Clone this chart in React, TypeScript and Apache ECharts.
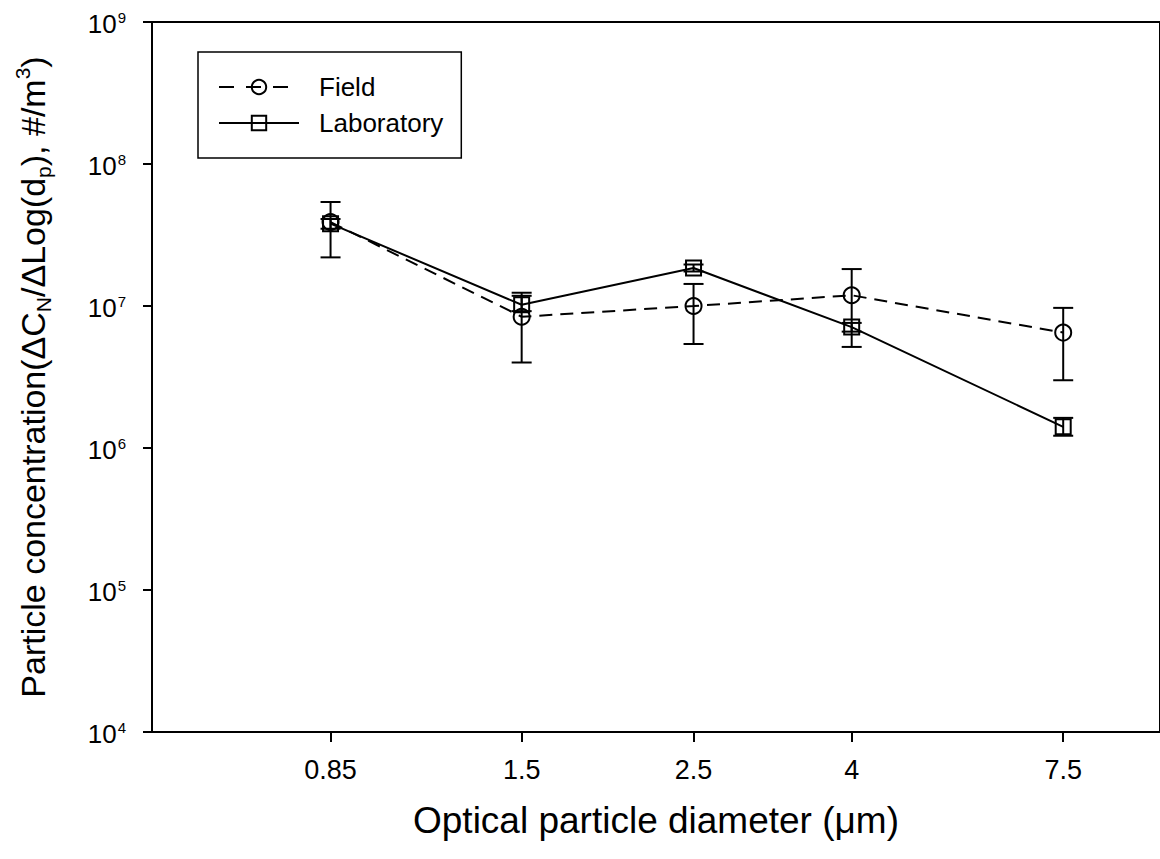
import React, { useEffect, useRef } from "react";
import * as echarts from "echarts";

const diameters = [0.85, 1.5, 2.5, 4, 7.5];
const xTickLabels = ["0.85", "1.5", "2.5", "4", "7.5"];
const fieldValues = [3.9e7, 8.4e6, 1.0e7, 1.19e7, 6.5e6];
const fieldLow = [2.2e7, 4.0e6, 5.4e6, 5.15e6, 3.0e6];
const fieldHigh = [5.4e7, 1.24e7, 1.43e7, 1.82e7, 9.7e6];
const labValues = [3.8e7, 1.02e7, 1.85e7, 7.1e6, 1.41e6];
const labLow = [3.5e7, 9.2e6, 1.75e7, 6.6e6, 1.22e6];
const labHigh = [4.1e7, 1.18e7, 1.96e7, 7.6e6, 1.63e6];
const yTicks = [1e4, 1e5, 1e6, 1e7, 1e8, 1e9];

const FONT = "'Liberation Sans', Arial, sans-serif";
const INK = "#000";

function errorBarSeries(name: string, lows: number[], highs: number[]) {
  return {
    type: "custom",
    name,
    data: diameters.map((d, i) => [d, lows[i], highs[i]]),
    encode: { x: 0, y: [1, 2] },
    z: 3,
    silent: true,
    renderItem: (params: any, api: any) => {
      const x = api.value(0);
      const p1 = api.coord([x, api.value(1)]);
      const p2 = api.coord([x, api.value(2)]);
      const w = 10;
      const st = { stroke: INK, lineWidth: 2, fill: "none" };
      return {
        type: "group",
        children: [
          { type: "line", shape: { x1: p1[0], y1: p1[1], x2: p2[0], y2: p2[1] }, style: st },
          { type: "line", shape: { x1: p1[0] - w, y1: p1[1], x2: p1[0] + w, y2: p1[1] }, style: st },
          { type: "line", shape: { x1: p2[0] - w, y1: p2[1], x2: p2[0] + w, y2: p2[1] }, style: st },
        ],
      };
    },
  };
}

export default function App() {
  const ref = useRef<HTMLDivElement>(null);
  useEffect(() => {
    if (!ref.current) return;
    const chart = echarts.init(ref.current, undefined, { renderer: "svg" });
    const option: any = {
      animation: false,
      backgroundColor: "#fff",
      textStyle: { fontFamily: FONT, color: INK },
      grid: {
        left: 152,
        top: 22,
        width: 1011,
        height: 710,
        show: true,
        borderColor: INK,
        borderWidth: 2,
        backgroundColor: "transparent",
      },
      legend: {
        data: [
          { name: "Field", lineStyle: { type: [15, 12] } },
          { name: "Laboratory" },
        ],
        orient: "vertical",
        left: 198,
        top: 52,
        borderColor: INK,
        borderWidth: 1.5,
        padding: [22, 18, 22, 20],
        itemWidth: 80,
        itemHeight: 18,
        itemGap: 10,
        textStyle: { fontFamily: FONT, fontSize: 26, color: INK, padding: [0, 0, 0, 15] },
      },
      xAxis: {
        type: "log",
        logBase: 10,
        min: 0.5,
        max: 10,
        name: "Optical particle diameter (\u03bcm)",
        nameLocation: "middle",
        nameGap: 70,
        nameTextStyle: { fontFamily: FONT, fontSize: 37, color: INK },
        axisLine: { show: true, lineStyle: { color: INK, width: 2 } },
        axisTick: { show: true, customValues: diameters, length: 10, lineStyle: { color: INK, width: 2 } },
        axisLabel: {
          customValues: diameters,
          margin: 24,
          fontFamily: FONT,
          fontSize: 27,
          color: INK,
          formatter: (v: number) => {
            let best = 0;
            diameters.forEach((d, i) => {
              if (Math.abs(d - v) < Math.abs(diameters[best] - v)) best = i;
            });
            return xTickLabels[best];
          },
        },
        splitLine: { show: false },
        minorTick: { show: false },
      },
      yAxis: {
        type: "log",
        logBase: 10,
        min: 1e4,
        max: 1e9,
        name:
          "{t|Particle concentration(\u0394C}{sub|N}{t|/\u0394Log(d}{sub|p}{t|), #/m}{sup|3}{t|)}",
        nameLocation: "middle",
        nameRotate: 90,
        nameGap: 98,
        nameTextStyle: {
          fontFamily: FONT,
          color: INK,
          rich: {
            t: { fontFamily: FONT, fontSize: 34, color: INK, lineHeight: 42, verticalAlign: "middle" },
            sub: { fontFamily: FONT, fontSize: 21, color: INK, lineHeight: 21, verticalAlign: "bottom" },
            sup: { fontFamily: FONT, fontSize: 21, color: INK, lineHeight: 21, verticalAlign: "top" },
          },
        },
        axisLine: { show: true, lineStyle: { color: INK, width: 2 } },
        axisTick: { show: true, customValues: yTicks, length: 9, lineStyle: { color: INK, width: 2 } },
        axisLabel: {
          customValues: yTicks,
          margin: 26,
          color: INK,
          formatter: (v: number) => `{b|10}{s|${Math.round(Math.log10(v))}}`,
          rich: {
            b: { fontFamily: FONT, fontSize: 26, color: INK, lineHeight: 30, verticalAlign: "bottom" },
            s: { fontFamily: FONT, fontSize: 15, color: INK, lineHeight: 15, verticalAlign: "top", padding: [3, 0, 0, 1] },
          },
        },
        splitLine: { show: false },
        minorTick: { show: false },
      },
      series: [
        errorBarSeries("fieldErr", fieldLow, fieldHigh),
        errorBarSeries("labErr", labLow, labHigh),
        {
          name: "Field",
          type: "line",
          data: diameters.map((d, i) => [d, fieldValues[i]]),
          symbol: "circle",
          symbolSize: 16,
          z: 4,
          lineStyle: { color: INK, width: 2, type: [13, 8] },
          itemStyle: { color: "transparent", borderColor: INK, borderWidth: 2 },
        },
        {
          name: "Laboratory",
          type: "line",
          data: diameters.map((d, i) => [d, labValues[i]]),
          symbol: "rect",
          symbolSize: 15,
          z: 4,
          lineStyle: { color: INK, width: 2, type: "solid" },
          itemStyle: { color: "transparent", borderColor: INK, borderWidth: 2 },
        },
      ],
    };
    chart.setOption(option);
    return () => chart.dispose();
  }, []);
  return (
    <div
      ref={ref}
      style={{ position: "absolute", left: 0, top: 0, width: 1160, height: 859, background: "#fff" }}
    />
  );
}
